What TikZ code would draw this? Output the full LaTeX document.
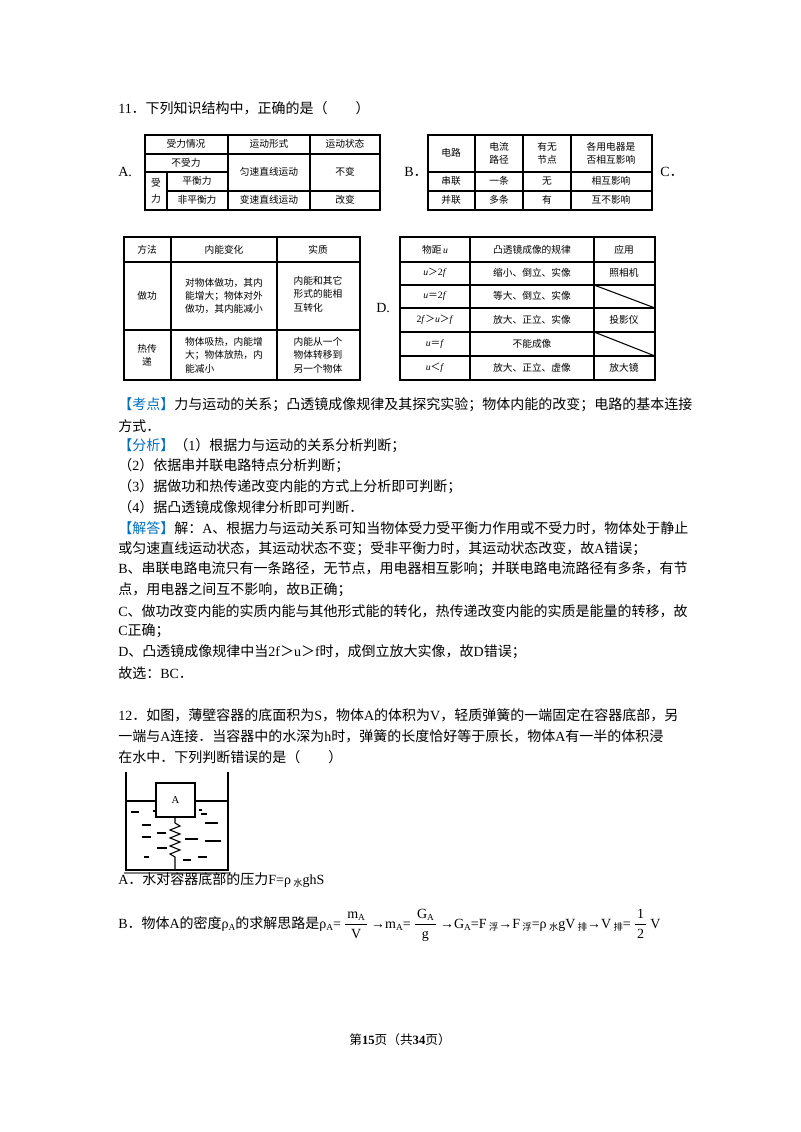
\documentclass[tikz,border=0pt]{standalone}
\usepackage{fontspec}
\setmainfont{Liberation Serif}
\newfontfamily\cjk{Noto Sans CJK SC}
\newcommand\latf{\rmfamily}
\newXeTeXintercharclass\cjkcls
\count255="3000 \loop\XeTeXcharclass\count255=\cjkcls\advance\count255 by 1 \ifnum\count255<"3040 \repeat
\count255="4E00 \loop\XeTeXcharclass\count255=\cjkcls\advance\count255 by 1 \ifnum\count255<"A000 \repeat
\count255="FF00 \loop\XeTeXcharclass\count255=\cjkcls\advance\count255 by 1 \ifnum\count255<"FFF0 \repeat
\XeTeXinterchartokenstate=1
\XeTeXinterchartoks 0 \cjkcls={\cjk}
\XeTeXinterchartoks 4095 \cjkcls={\cjk}
\XeTeXinterchartoks \cjkcls 0={\latf}
\XeTeXinterchartoks 4095 0={\latf}
\definecolor{kblue}{RGB}{0,112,192}
\newcommand\sbx[1]{\raisebox{-1.5pt}{\scriptsize #1}}
\newcommand\fr[2]{\,$\displaystyle\frac{\hbox{\,#1\,}}{\hbox{#2}}$\,}
\tikzset{txt/.style={anchor=west,inner sep=0pt,font=\fontsize{10.5}{12}\selectfont},
 cell/.style={inner sep=0pt,font=\fontsize{7.3}{10}\selectfont,align=center},
 tb/.style={line width=0.8pt}}
\begin{document}
\begin{tikzpicture}[x=0.75pt,y=-0.75pt]
\fill[white] (0,0) rectangle (800,1132);
\useasboundingbox (0,0) rectangle (800,1132);
\node[txt] (q11) at (118,108) {11．下列知识结构中，正确的是（　　）};
\node[txt] (la) at (118,172) {A.};
\node[txt] (lb) at (404,172) {B．};
\node[txt] (lc) at (660,172) {C．};
\node[txt] (ld) at (376,308) {D.};
% Table A
\draw[tb] (145,135) rectangle (380,210);
\draw[tb] (145,154)--(380,154) (145,172)--(228,172) (167,191)--(380,191)
 (228,135)--(228,210) (310,135)--(310,210) (167,172)--(167,210);
\node[cell] (a1) at (186,144) {受力情况};
\node[cell] (a2) at (269,144) {运动形式};
\node[cell] (a3) at (345,144) {运动状态};
\node[cell] (a4) at (186,163) {不受力};
\node[cell] (a5) at (156,191) {受\\[2pt]力};
\node[cell] (a6) at (197,181) {平衡力};
\node[cell] (a7) at (197,200) {非平衡力};
\node[cell] (a8) at (269,172) {匀速直线运动};
\node[cell] (a9) at (345,172) {不变};
\node[cell] (a10) at (269,200) {变速直线运动};
\node[cell] (a11) at (345,200) {改变};
% Table B
\draw[tb] (428,135) rectangle (652,210);
\draw[tb] (428,172)--(652,172) (428,191)--(652,191) (475,135)--(475,210) (523,135)--(523,210) (571,135)--(571,210);
\node[cell] (b1) at (451,153) {电路};
\node[cell] (b2) at (499,153) {电流\\路径};
\node[cell] (b3) at (547,153) {有无\\节点};
\node[cell] (b4) at (611,153) {各用电器是\\否相互影响};
\node[cell] (b5) at (451,181) {串联};
\node[cell] (b6) at (499,181) {一条};
\node[cell] (b7) at (547,181) {无};
\node[cell] (b8) at (611,181) {相互影响};
\node[cell] (b9) at (451,200) {并联};
\node[cell] (b10) at (499,200) {多条};
\node[cell] (b11) at (547,200) {有};
\node[cell] (b12) at (611,200) {互不影响};
% Table C
\draw[tb] (124,237) rectangle (360,380);
\draw[tb] (124,262)--(360,262) (124,330)--(360,330) (171,237)--(171,380) (277,237)--(277,380);
\node[cell] (c1) at (147,250) {方法};
\node[cell] (c2) at (224,250) {内能变化};
\node[cell] (c3) at (318,250) {实质};
\node[cell] (c4) at (147,296) {做功};
\node[cell,align=left] (c5) at (224,296) {对物体做功，其内\\能增大；物体对外\\做功，其内能减小};
\node[cell,align=left] (c6) at (318,294) {内能和其它\\形式的能相\\互转化};
\node[cell] (c7) at (147,355) {热传\\递};
\node[cell,align=left] (c8) at (224,355) {物体吸热，内能增\\大；物体放热，内\\能减小};
\node[cell,align=left] (c9) at (318,355) {内能从一个\\物体转移到\\另一个物体};
% Table D
\draw[tb] (400,237) rectangle (655,380);
\draw[tb] (400,262)--(655,262) (400,285)--(655,285) (400,308)--(655,308) (400,332)--(655,332) (400,356)--(655,356)
 (470,237)--(470,380) (594,237)--(594,380);
\draw[tb] (594,285)--(655,308) (594,332)--(655,356);
\node[cell] (d1) at (435,250) {物距\,\textit{u}};
\node[cell] (d2) at (532,250) {凸透镜成像的规律};
\node[cell] (d3) at (624,250) {应用};
\node[cell] (d4) at (435,273) {\textit{u}＞2\textit{f}};
\node[cell] (d5) at (532,273) {缩小、倒立、实像};
\node[cell] (d6) at (624,273) {照相机};
\node[cell] (d7) at (435,296) {\textit{u}＝2\textit{f}};
\node[cell] (d8) at (532,296) {等大、倒立、实像};
\node[cell] (d9) at (435,320) {2\textit{f}＞\textit{u}＞\textit{f}};
\node[cell] (d10) at (532,320) {放大、正立、实像};
\node[cell] (d11) at (624,320) {投影仪};
\node[cell] (d12) at (435,344) {\textit{u}＝\textit{f}};
\node[cell] (d13) at (532,344) {不能成像};
\node[cell] (d14) at (435,368) {\textit{u}＜\textit{f}};
\node[cell] (d15) at (532,368) {放大、正立、虚像};
\node[cell] (d16) at (624,368) {放大镜};
% Solution text
\node[txt] (t1) at (118,405) {\textcolor{kblue}{【考点】}力与运动的关系；凸透镜成像规律及其探究实验；物体内能的改变；电路的基本连接};
\node[txt] (t2) at (118,426) {方式．};
\node[txt] (t3) at (118,446) {\textcolor{kblue}{【分析】}（1）根据力与运动的关系分析判断；};
\node[txt] (t4) at (118,466) {（2）依据串并联电路特点分析判断；};
\node[txt] (t5) at (118,487) {（3）据做功和热传递改变内能的方式上分析即可判断；};
\node[txt] (t6) at (118,507) {（4）据凸透镜成像规律分析即可判断．};
\node[txt] (t7) at (118,528) {\textcolor{kblue}{【解答】}解：A、根据力与运动关系可知当物体受力受平衡力作用或不受力时，物体处于静止};
\node[txt] (t8) at (118,549) {或匀速直线运动状态，其运动状态不变；受非平衡力时，其运动状态改变，故A错误；};
\node[txt] (t9) at (118,569) {B、串联电路电流只有一条路径，无节点，用电器相互影响；并联电路电流路径有多条，有节};
\node[txt] (t10) at (118,590) {点，用电器之间互不影响，故B正确；};
\node[txt] (t11) at (118,611) {C、做功改变内能的实质内能与其他形式能的转化，热传递改变内能的实质是能量的转移，故};
\node[txt] (t12) at (118,631) {C正确；};
\node[txt] (t13) at (118,652) {D、凸透镜成像规律中当2f＞u＞f时，成倒立放大实像，故D错误；};
\node[txt] (t14) at (118,673) {故选：BC．};
\node[txt] (q12) at (118,715) {12．如图，薄壁容器的底面积为S，物体A的体积为V，轻质弹簧的一端固定在容器底部，另};
\node[txt] (q12b) at (118,736) {一端与A连接．当容器中的水深为h时，弹簧的长度恰好等于原长，物体A有一半的体积浸};
\node[txt] (q12c) at (118,757) {在水中．下列判断错误的是（　　）};
% container
\draw[line width=1pt] (126,772)--(126,870)--(228,870)--(228,772);
\draw[gray,line width=0.8pt] (124,873)--(230,873);
\draw[line width=1pt] (126,801)--(156,801) (195,801)--(228,801);
\draw[line width=1pt] (156,783) rectangle (195,817);
\node[inner sep=0pt,font=\sffamily\fontsize{8}{8}\selectfont] (blockA) at (175.5,800) {A};
\coordinate (sp0) at (175,817);
\coordinate (sp1) at (175,870);
\draw[line width=0.8pt] (sp0)--++(0,6)--++(5,3)--++(-10,4)--++(10,4)--++(-10,4)--++(10,4)--++(-10,4)--++(10,4)--++(-10,4)--++(5,3)--(sp1);
\foreach \a/\b/\y in {131/139/812,153/157/811,142/151/825,142/151/837,157/166/833,157/167/848,144/149/857,185/198/839,183/191/860,198/207/857,205/218/823,205/221/841,199/202/810,201/207/814}
 \draw[line width=1pt] (\a,\y)--(\b,\y);
\node[txt] (oa) at (118,880) {A．水对容器底部的压力F=ρ\sbx{ 水}ghS};
\node[txt] (ob) at (118,925) {B．物体A的密度ρ\sbx{A}的求解思路是ρ\sbx{A}=\fr{m\sbx{A}}{V}→m\sbx{A}=\fr{G\sbx{A}}{g}→G\sbx{A}=F\sbx{ 浮}→F\sbx{ 浮}=ρ\sbx{ 水}gV\sbx{ 排}→V\sbx{ 排}=\fr{1}{2}V};
\node[inner sep=0pt,font=\fontsize{9.5}{10}\selectfont] (foot) at (400,1040) {第\textbf{15}页（共\textbf{34}页）};
\end{tikzpicture}
\end{document}
